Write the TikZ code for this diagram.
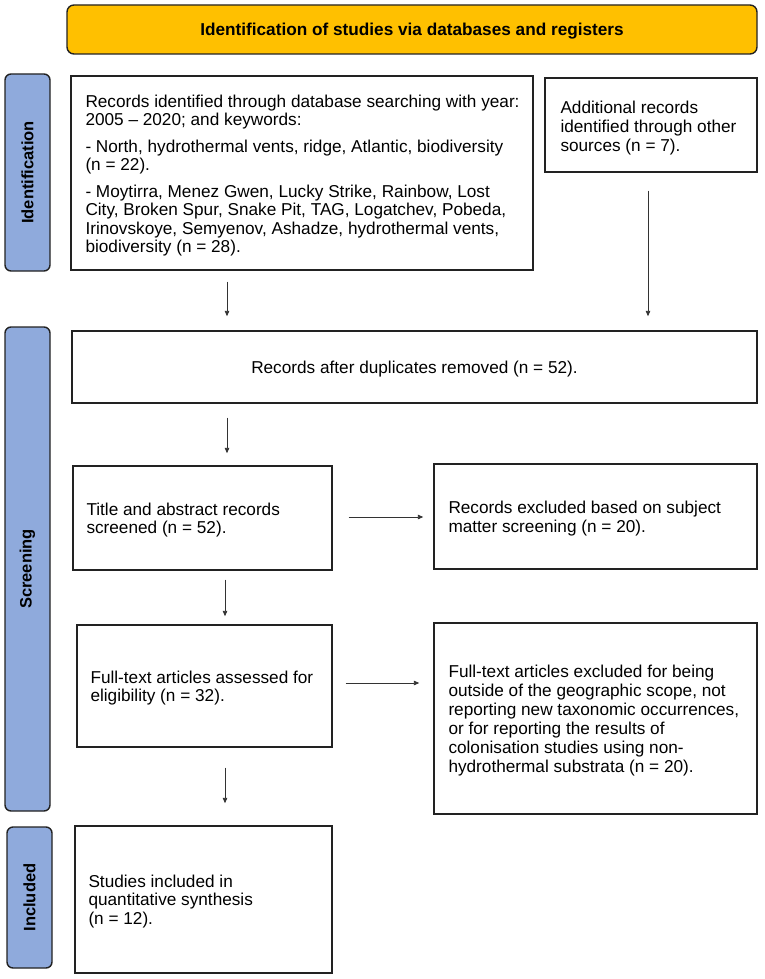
\documentclass[tikz,border=0pt]{standalone}
\usepackage{fontspec}
\setmainfont{Liberation Sans}
\usetikzlibrary{arrows.meta}
\definecolor{headyellow}{HTML}{FFC000}
\definecolor{phaseblue}{HTML}{8FAADC}
\definecolor{edgedark}{HTML}{222222}
\definecolor{arrowgrey}{HTML}{333333}
\tikzset{
  box/.style={draw=edgedark, line width=1.4pt, rectangle, inner sep=0pt, fill=white},
  headbox/.style={draw=edgedark, line width=1.4pt, rectangle, rounded corners=7pt, fill=headyellow, inner sep=0pt},
  headtext/.style={inner sep=0pt, font=\fontsize{17.2}{19}\selectfont\bfseries},
  phasebar/.style={draw=edgedark, line width=1.4pt, rectangle, rounded corners=6pt, fill=phaseblue, inner sep=0pt},
  phaselabel/.style={rotate=90, font=\fontsize{16.5}{18}\selectfont\bfseries, inner sep=0pt},
  txt/.style={anchor=west, align=left, inner sep=0pt, font=\fontsize{17.2}{18.9}\selectfont},
  flow/.style={draw=arrowgrey, line width=0.9pt, -{Triangle[length=5.5pt,width=4.5pt]}}
}
\begin{document}
\begin{tikzpicture}[x=1pt,y=-1pt]
\useasboundingbox (0,0) rectangle (765,979);
% header
\node[headbox, minimum width=690pt, minimum height=49pt] (head) at (412,29.5) {};
\node[headtext] (headt) at ([yshift=-1.5pt]head.center) {Identification of studies via databases and registers};
% phase bars
\node[phasebar, minimum width=45pt, minimum height=197pt] (barid) at (27.5,172.5) {};
\node[phaselabel] (labid) at (barid.center) {Identification};
\node[phasebar, minimum width=45pt, minimum height=484pt] (barsc) at (27.5,569) {};
\node[phaselabel] (labsc) at (barsc.center) {Screening};
\node[phasebar, minimum width=45pt, minimum height=141pt] (barin) at (29.5,897.5) {};
\node[phaselabel] (labin) at (barin.center) {Included};
% boxes
\node[box, minimum width=462pt, minimum height=194pt] (box1) at (302,173) {};
\node[txt, font=\fontsize{17.2}{18.3}\selectfont] (t1) at ([xshift=15pt, yshift=-2.5pt]box1.west) {Records identified through database searching with year:\\
2005 – 2020; and keywords:\\[8.4pt]
- North, hydrothermal vents, ridge, Atlantic, biodiversity\\
(n = 22).\\[8.4pt]
- Moytirra, Menez Gwen, Lucky Strike, Rainbow, Lost\\
City, Broken Spur, Snake Pit, TAG, Logatchev, Pobeda,\\
Irinovskoye, Semyenov, Ashadze, hydrothermal vents,\\
biodiversity (n = 28).};
\node[box, minimum width=212pt, minimum height=94pt] (box2) at (651,125) {};
\node[txt] (t2) at ([xshift=16pt, yshift=-3pt]box2.west) {Additional records\\identified through other\\sources (n = 7).};
\node[box, minimum width=685pt, minimum height=72pt] (box3) at (414.5,367) {};
\node[txt, anchor=center] (t3) at ([yshift=-2pt]box3.center) {Records after duplicates removed (n = 52).};
\node[box, minimum width=259pt, minimum height=104pt] (title) at (202.5,518) {};
\node[txt] (t4) at ([xshift=14pt, yshift=-2pt]title.west) {Title and abstract records\\screened (n = 52).};
\node[box, minimum width=323pt, minimum height=105pt] (excl) at (595.5,516.5) {};
\node[txt] (t5) at ([xshift=15pt, yshift=-2pt]excl.west) {Records excluded based on subject\\matter screening (n = 20).};
\node[box, minimum width=255pt, minimum height=122pt] (full) at (204.5,686) {};
\node[txt] (t6) at ([xshift=14pt, yshift=-2pt]full.west) {Full-text articles assessed for\\eligibility (n = 32).};
\node[box, minimum width=323pt, minimum height=191pt] (fullx) at (595.5,718.5) {};
\node[txt] (t7) at ([xshift=15pt, yshift=-2pt]fullx.west) {Full-text articles excluded for being\\outside of the geographic scope, not\\reporting new taxonomic occurrences,\\or for reporting the results of\\colonisation studies using non-\\hydrothermal substrata (n = 20).};
\node[box, minimum width=257pt, minimum height=147pt] (studies) at (203.5,899.5) {};
\node[txt] (t8) at ([xshift=14pt, yshift=-2pt]studies.west) {Studies included in\\quantitative synthesis\\(n = 12).};
% connector guides
\coordinate (colA) at (227,0);
\coordinate (colB) at (225,0);
\coordinate (colR) at (648,0);
\coordinate (rowA) at (0,517);
\coordinate (rowB) at (0,683);
% connectors
\draw[flow, shorten <=11pt, shorten >=14pt] (box1.south -| colA) -- (box3.north -| colA);
\draw[flow, shorten <=18pt, shorten >=14pt] (box2.south -| colR) -- (box3.north -| colR);
\draw[flow, shorten <=14pt, shorten >=12pt] (box3.south -| colA) -- (title.north -| colA);
\draw[flow, shorten <=16pt, shorten >=10pt] (title.east |- rowA) -- (excl.west |- rowA);
\draw[flow, shorten <=9pt, shorten >=8pt] (title.south -| colB) -- (full.north -| colB);
\draw[flow, shorten <=13pt, shorten >=14pt] (full.east |- rowB) -- (fullx.west |- rowB);
\draw[flow, shorten <=20pt, shorten >=22pt] (full.south -| colB) -- (studies.north -| colB);
\end{tikzpicture}
\end{document}
